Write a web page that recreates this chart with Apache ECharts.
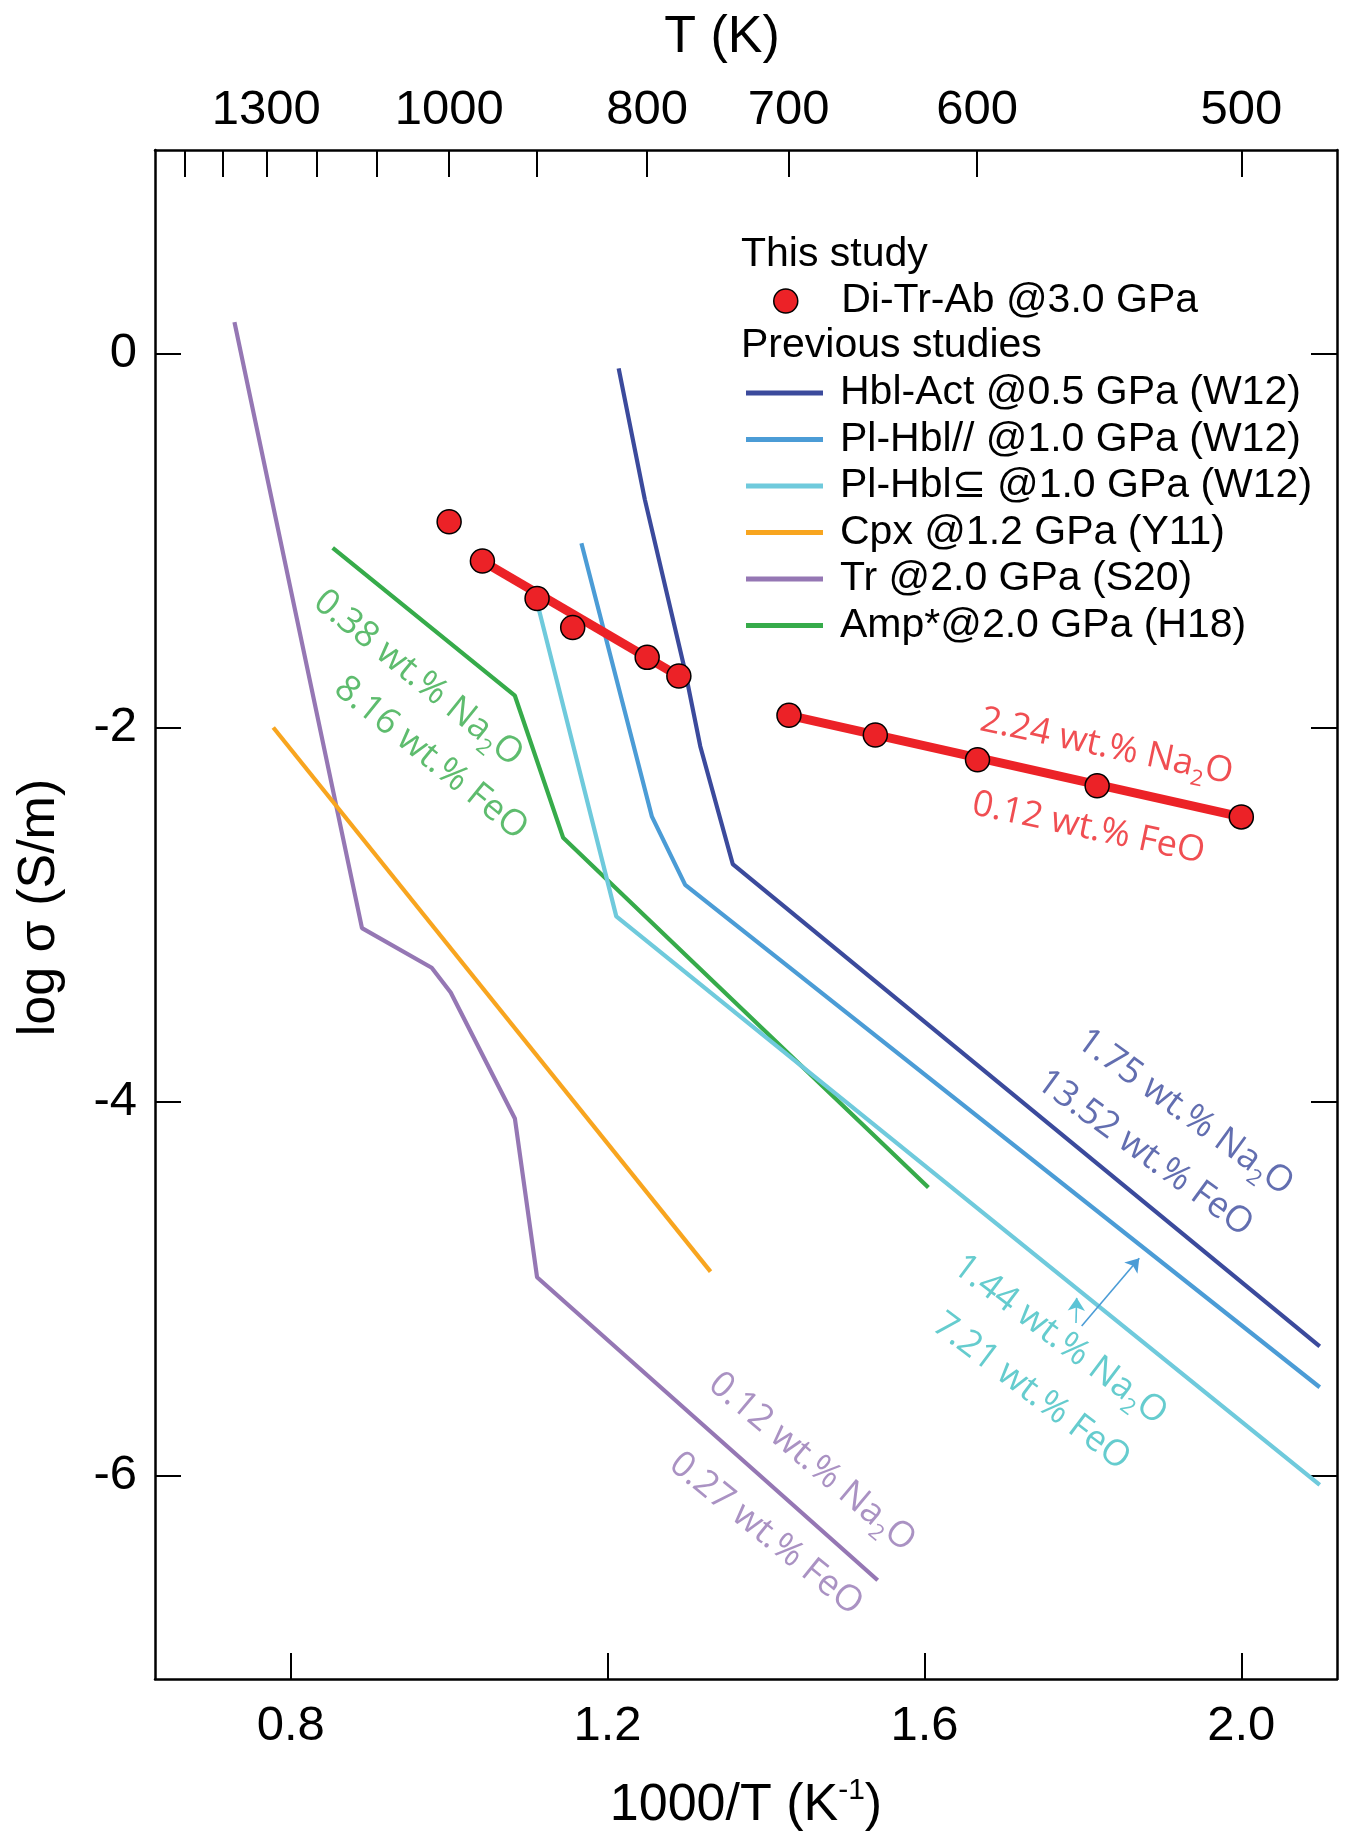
<!DOCTYPE html>
<html>
<head>
<meta charset="utf-8">
<script src="https://cdn.jsdelivr.net/npm/echarts@6/dist/echarts.min.js"></script>
<style>
html,body{margin:0;padding:0;background:#fff;}
#chart{width:1347px;height:1831px;}
</style>
</head>
<body>
<div id="chart"></div>
<script>
// ---------------- data ----------------
const xTickValues = [0.8, 1.2, 1.6, 2.0];
const yTickValues = [-6, -4, -2, 0];
const topTickTemps = [1500, 1400, 1300, 1200, 1100, 1000, 900, 800, 700, 600, 500];
const topLabelTemps = [1300, 1000, 800, 700, 600, 500];

// This study: Di-Tr-Ab @3.0 GPa (1000/T, log sigma)
const thisStudyX = [1.000, 1.042, 1.111, 1.156, 1.250, 1.290, 1.429, 1.538, 1.667, 1.818, 2.000];
const thisStudyY = [-0.90, -1.11, -1.31, -1.465, -1.625, -1.725, -1.935, -2.04, -2.173, -2.312, -2.478];
// fitted lines of this study (end points)
const fitAX = [1.042, 1.290];
const fitAY = [-1.11, -1.725];
const fitBX = [1.429, 2.000];
const fitBY = [-1.935, -2.478];

// Previous studies
const hblActX = [1.214, 1.247, 1.298, 1.317, 1.358, 2.099];
const hblActY = [-0.08, -0.78, -1.70, -2.10, -2.73, -5.31];
const plHblParX = [1.167, 1.256, 1.298, 2.099];
const plHblParY = [-1.015, -2.477, -2.842, -5.528];
const plHblSubX = [1.111, 1.211, 2.099];
const plHblSubY = [-1.33, -3.01, -6.05];
const cpxX = [0.778, 1.330];
const cpxY = [-2.00, -4.91];
const trX = [0.729, 0.890, 0.978, 1.002, 1.083, 1.111, 1.541];
const trY = [0.168, -3.073, -3.285, -3.417, -4.091, -4.940, -6.56];
const ampX = [0.853, 1.083, 1.144, 1.605];
const ampY = [-1.04, -1.83, -2.59, -4.46];

// composition notes (text and data-space anchors)
const noteTexts = [
  '0.38 wt.% Na{s|2}O', '8.16 wt.% FeO',
  '2.24 wt.% Na{s|2}O', '0.12 wt.% FeO',
  '1.75 wt.% Na{s|2}O', '13.52 wt.% FeO',
  '1.44 wt.% Na{s|2}O', '7.21 wt.% FeO',
  '0.12 wt.% Na{s|2}O', '0.27 wt.% FeO'
];
const noteX = [0.961, 0.977, 1.830, 1.807, 1.929, 1.878, 1.771, 1.735, 1.458, 1.400];
const noteY = [-1.737, -2.165, -2.103, -2.539, -4.058, -4.277, -5.275, -5.552, -5.929, -6.313];
const noteAngle = [-39, -39, -12, -12, -36, -36, -37, -37, -40, -39];
const noteGroup = ['amp', 'amp', 'this', 'this', 'hbl', 'hbl', 'sub', 'sub', 'tr', 'tr'];

// arrows (from -> to, data space)
const arrowFrom = [[1.7985, -5.200], [1.7913, -5.185]];
const arrowTo = [[1.8712, -4.838], [1.7922, -5.050]];
const arrowGroup = ['par', 'subArrow'];

// ---------------- styles ----------------
const FONT = "'Liberation Sans', Arial, Helvetica, sans-serif";
const NOTE_FONT = "'Open Sans', 'Noto Sans', sans-serif";
const C = {
  this: '#ec2227', hbl: '#3b4a9c', par: '#4b9cd6', sub: '#6fcadc',
  cpx: '#f8a51f', tr: '#9577b4', amp: '#36ab4a', subText: '#3ebfc2', subArrow: '#5cc4d6'
};
const noteColor = { amp: C.amp, this: C.this, hbl: C.hbl, sub: C.subText, tr: C.tr };

const XMIN = 0.6287, XMAX = 2.1208;
const YMIN = -7.0882, YMAX = 1.0882;

const zip = (xs, ys) => xs.map((x, i) => [x, ys[i]]);

function lineSeries(name, xs, ys, color, z) {
  return {
    name: name, type: 'line', data: zip(xs, ys), symbol: 'none', showSymbol: false,
    silent: true, z: z, lineStyle: { color: color, width: 4.2 }, itemStyle: { color: color }
  };
}

const names = {
  me: 'Di-Tr-Ab @3.0 GPa',
  hbl: 'Hbl-Act @0.5 GPa (W12)',
  par: 'Pl-Hbl// @1.0 GPa (W12)',
  sub: 'Pl-Hbl\u2286 @1.0 GPa (W12)',
  cpx: 'Cpx @1.2 GPa (Y11)',
  tr: 'Tr @2.0 GPa (S20)',
  amp: 'Amp*@2.0 GPa (H18)'
};

const series = [
  lineSeries(names.tr, trX, trY, C.tr, 2),
  lineSeries(names.cpx, cpxX, cpxY, C.cpx, 2),
  lineSeries(names.amp, ampX, ampY, C.amp, 2),
  lineSeries(names.sub, plHblSubX, plHblSubY, C.sub, 2),
  lineSeries(names.par, plHblParX, plHblParY, C.par, 2),
  lineSeries(names.hbl, hblActX, hblActY, C.hbl, 2),
  {
    name: 'fitA', type: 'line', symbol: 'none', silent: true, z: 3,
    data: zip(fitAX, fitAY),
    lineStyle: { color: C.this, width: 9 }
  },
  {
    name: 'fitB', type: 'line', symbol: 'none', silent: true, z: 3,
    data: zip(fitBX, fitBY),
    lineStyle: { color: C.this, width: 9 }
  },
  {
    name: names.me, type: 'scatter', symbol: 'circle', symbolSize: 24, z: 4, silent: true,
    data: zip(thisStudyX, thisStudyY),
    itemStyle: { color: C.this, borderColor: '#000', borderWidth: 1.5, opacity: 1 }
  },
  {
    name: 'notes', type: 'scatter', symbolSize: 1, z: 5, silent: true,
    itemStyle: { color: 'rgba(0,0,0,0)' },
    data: noteTexts.map((t, i) => {
      const col = noteColor[noteGroup[i]];
      return {
        value: [noteX[i], noteY[i]],
        label: {
          show: true, position: 'inside', rotate: noteAngle[i], color: col,
          fontFamily: NOTE_FONT, fontSize: 36,
          formatter: t,
          rich: { s: { fontSize: 22, color: col, fontFamily: NOTE_FONT, padding: [26, 0, 0, 0] } }
        }
      };
    }),
    markLine: {
      silent: true, animation: false, symbol: ['none', 'arrow'], symbolSize: 13,
      label: { show: false },
      data: arrowFrom.map((f, i) => [
        { coord: f, lineStyle: { color: C[arrowGroup[i]], width: 1.6, type: 'solid' } },
        { coord: arrowTo[i] }
      ])
    }
  }
];

const axisLineStyle = { color: '#000', width: 2.5 };
const tickStyle = { color: '#000', width: 2 };

const option = {
  animation: false,
  backgroundColor: '#fff',
  grid: { left: 155, right: 10, top: 150, bottom: 152, containLabel: false, outerBoundsMode: 'none' },
  xAxis: [
    {
      type: 'value', position: 'bottom', min: XMIN, max: XMAX,
      axisLine: { show: true, onZero: false, lineStyle: axisLineStyle },
      axisTick: { show: true, inside: true, length: 26, customValues: xTickValues, lineStyle: tickStyle },
      axisLabel: { show: true, customValues: xTickValues, formatter: v => v.toFixed(1),
        fontSize: 49, fontFamily: FONT, color: '#000', margin: 23 },
      splitLine: { show: false },
      name: '1000/T (K{sup|-1})', nameLocation: 'middle', nameGap: 97,
      nameTextStyle: { fontSize: 52, fontFamily: FONT, color: '#000',
        rich: { sup: { fontSize: 30, fontFamily: FONT, color: '#000', padding: [0, 0, 30, 0] } } }
    },
    {
      type: 'value', position: 'top', min: XMIN, max: XMAX,
      axisLine: { show: true, onZero: false, lineStyle: axisLineStyle },
      axisTick: { show: true, inside: true, length: 27, customValues: topTickTemps.map(t => 1000 / t), lineStyle: tickStyle },
      axisLabel: { show: true, customValues: topLabelTemps.map(t => 1000 / t), formatter: v => String(Math.round(1000 / v)),
        fontSize: 49, fontFamily: FONT, color: '#000', margin: 15 },
      splitLine: { show: false },
      name: 'T (K)', nameLocation: 'middle', nameGap: 86,
      nameTextStyle: { fontSize: 52, fontFamily: FONT, color: '#000', padding: [0, 48, 0, 0] }
    }
  ],
  yAxis: [
    {
      type: 'value', position: 'left', min: YMIN, max: YMAX,
      axisLine: { show: true, onZero: false, lineStyle: axisLineStyle },
      axisTick: { show: true, inside: true, length: 26, customValues: yTickValues, lineStyle: tickStyle },
      axisLabel: { show: true, customValues: yTickValues, formatter: v => String(v),
        fontSize: 49, fontFamily: FONT, color: '#000', margin: 18 },
      splitLine: { show: false },
      name: 'log \u03c3 (S/m)', nameLocation: 'middle', nameGap: 89,
      nameTextStyle: { fontSize: 52, fontFamily: FONT, color: '#000', padding: [0, 0, 0, 14] }
    },
    {
      type: 'value', position: 'right', min: YMIN, max: YMAX,
      axisLine: { show: true, onZero: false, lineStyle: axisLineStyle },
      axisTick: { show: true, inside: true, length: 26, customValues: yTickValues, lineStyle: tickStyle },
      axisLabel: { show: false },
      splitLine: { show: false }
    }
  ],
  legend: [
    {
      data: [names.me], orient: 'vertical', left: 773, top: 278, padding: 0,
      itemWidth: 77, itemHeight: 24, itemGap: 0, selectedMode: false,
      itemStyle: { borderColor: '#000', borderWidth: 1.5 },
      textStyle: { fontSize: 41, fontFamily: FONT, color: '#000', lineHeight: 46, padding: [0, 0, 0, 12] }
    },
    {
      data: [names.hbl, names.par, names.sub, names.cpx, names.tr, names.amp],
      orient: 'vertical', left: 746, top: 370, padding: 0, icon: 'rect',
      itemWidth: 77, itemHeight: 5, itemGap: 0.5, selectedMode: false,
      itemStyle: { borderWidth: 0 },
      textStyle: { fontSize: 41, fontFamily: FONT, color: '#000', lineHeight: 46, padding: [0, 0, 0, 12] }
    }
  ],
  graphic: [
    { type: 'text', x: 741, y: 255, silent: true,
      style: { text: 'This study', font: '41px ' + FONT, fill: '#000', verticalAlign: 'middle', align: 'left' } },
    { type: 'text', x: 741, y: 346, silent: true,
      style: { text: 'Previous studies', font: '41px ' + FONT, fill: '#000', verticalAlign: 'middle', align: 'left' } }
  ],
  series: series
};

const chart = echarts.init(document.getElementById('chart'), null, { renderer: 'canvas', width: 1347, height: 1831 });
chart.setOption(option);
</script>
</body>
</html>
